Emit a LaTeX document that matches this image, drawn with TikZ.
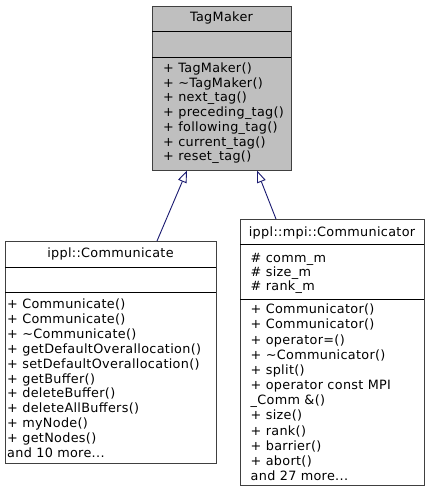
\documentclass[tikz,border=0pt]{standalone}
\usepackage{fontspec}
\setmainfont{DejaVu Sans}[LetterSpace=2.5]
\usetikzlibrary{arrows.meta}

% one row of a class compartment, baseline at the given point
\newcommand{\umlrow}[3]{\node[rowtext] (#1) at (#2) {#3};}

\tikzset{
  classbox/.style={draw=boxedge, line width=1pt, rectangle, inner sep=0pt},
  sepline/.style={draw=black, line width=0.9pt},
  rowtext/.style={anchor=base west, inner sep=0pt, font=\fontsize{12.8}{14.9}\selectfont},
  titletext/.style={anchor=base, inner sep=0pt, font=\fontsize{12.8}{14.9}\selectfont},
  inherit/.style={draw=navyedge, line width=0.9pt,
    -{Triangle[open, length=12pt, width=9pt, fill=white]}},
}
\definecolor{boxedge}{HTML}{404040}
\definecolor{boxfill}{HTML}{BFBFBF}
\definecolor{navyedge}{HTML}{191970}

\begin{document}
\begin{tikzpicture}[x=1pt, y=-1pt]
\useasboundingbox (0,0) rectangle (429,492);

% ---------------- TagMaker ----------------
\node[classbox, fill=boxfill, minimum width=139pt, minimum height=164pt, anchor=north west] (tagmaker) at (152,6) {};
\draw[sepline] (152,31) -- (291,31);
\draw[sepline] (152,57) -- (291,57);
\node[titletext] (tmtitle) at (221.5,22) {TagMaker};
\umlrow{tm1}{163,72.5}{+ TagMaker()}
\umlrow{tm2}{163,87.2}{+ \char"223C TagMaker()}
\umlrow{tm3}{163,101.9}{+ next\_tag()}
\umlrow{tm4}{163,116.6}{+ preceding\_tag()}
\umlrow{tm5}{163,131.3}{+ following\_tag()}
\umlrow{tm6}{163,146.0}{+ current\_tag()}
\umlrow{tm7}{163,160.7}{+ reset\_tag()}

% ---------------- ippl::Communicate ----------------
\node[classbox, fill=white, minimum width=211pt, minimum height=222pt, anchor=north west] (comm) at (5,241) {};
\draw[sepline] (5,267) -- (216,267);
\draw[sepline] (5,292) -- (216,292);
\node[titletext] (commtitle) at (110.5,257) {ippl::Communicate};
\foreach \t [count=\i from 0] in {%
  {+ Communicate()},
  {+ Communicate()},
  {+ \char"223C Communicate()},
  {+ getDefaultOverallocation()},
  {+ setDefaultOverallocation()},
  {+ getBuffer()},
  {+ deleteBuffer()},
  {+ deleteAllBuffers()},
  {+ myNode()},
  {+ getNodes()},
  {and 10 more{.}{.}{.}}}
  \node[rowtext] (cm\i) at (7,{308.5+14.9*\i}) {\t};

% ---------------- ippl::mpi::Communicator ----------------
\node[classbox, fill=white, minimum width=184pt, minimum height=266pt, anchor=north west] (mpicomm) at (240,219) {};
\draw[sepline] (240,244) -- (424,244);
\draw[sepline] (240,299) -- (424,299);
\node[titletext] (mctitle) at (332,236) {ippl::mpi::Communicator};
\umlrow{ma1}{250.5,262}{\# comm\_m}
\umlrow{ma2}{250.5,276.2}{\# size\_m}
\umlrow{ma3}{250.5,290.4}{\# rank\_m}
\foreach \t [count=\i from 0] in {%
  {+ Communicator()},
  {+ Communicator()},
  {+ operator=()},
  {+ \char"223C Communicator()},
  {+ split()},
  {+ operator const MPI},
  {\_Comm \&()},
  {+ size()},
  {+ rank()},
  {+ barrier()},
  {+ abort()},
  {and 27 more{.}{.}{.}}}
  \node[rowtext] (mm\i) at (250.5,{313.8+15.15*\i}) {\t};

% ---------------- inheritance ----------------
\coordinate (tmL) at (187,170.5);
\coordinate (tmR) at (257,170.5);
\coordinate (cmTop) at (157,241);
\coordinate (mcTop) at (276,219);
\draw[inherit] (cmTop) -- (tmL);
\draw[inherit] (mcTop) -- (tmR);
\end{tikzpicture}
\end{document}
